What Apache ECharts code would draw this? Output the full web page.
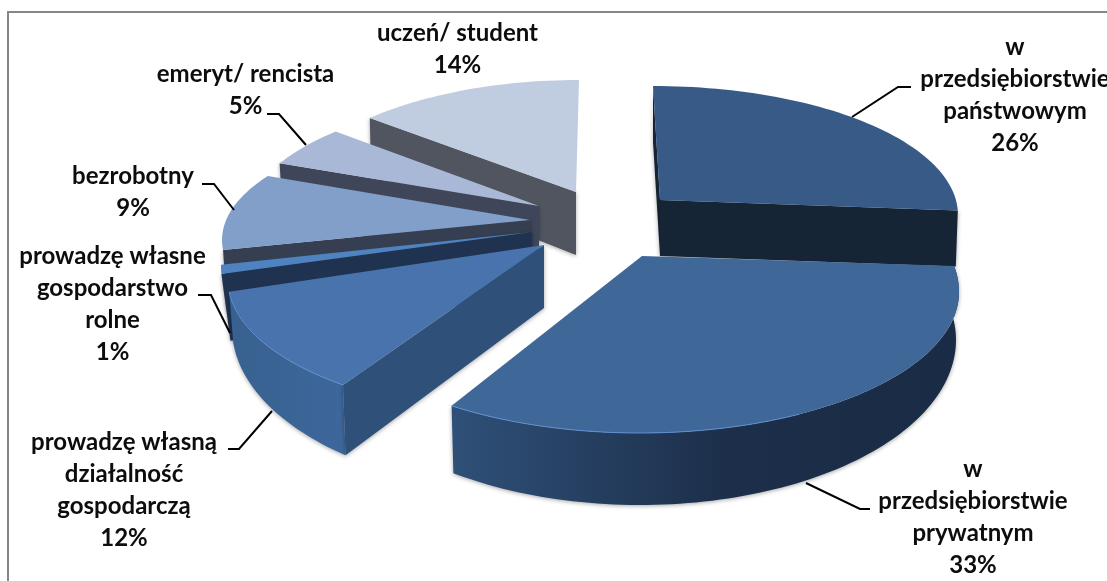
<!DOCTYPE html>
<html><head><meta charset="utf-8">
<style>html,body{margin:0;padding:0;background:#fff}#c{width:1107px;height:581px}</style>
<script src="https://cdn.jsdelivr.net/npm/echarts@6/dist/echarts.min.js"></script>
</head><body><div id="c"></div>
<script>
// Data, clockwise from 12 o'clock
const categories = ["w\nprzedsiębiorstwie\npaństwowym","w\nprzedsiębiorstwie\nprywatnym","prowadzę własną\ndziałalność\ngospodarczą","prowadzę własne\ngospodarstwo\nrolne","bezrobotny","emeryt/ rencista","uczeń/ student"];
const shares = [26,33,12,1,9,5,14];

// Projection of each exploded slice: the reference is a perspective 3D pie
const projection = [
 {ax:660,ay:200,az:256,top:{cx:653,cy:215,rx:305,ryB:129,ryF:129},bot:{cx:653,cy:271,rx:303,ryB:129,ryF:129},ds:0,de:-5.6,cuts:["start","end"],rim:false},
 {ax:642,ay:256,az:320,top:{cx:640,cy:292,rx:319,ryB:150,ryF:141},bot:{cx:640,cy:340,rx:316,ryB:165,ryF:165},ds:-13.6,de:3.8,cuts:[],rim:true},
 {ax:544,ay:245,az:308,top:{cx:544,cy:280,rx:316,ryB:136,ryF:136},bot:{cx:544,cy:328,rx:312,ryB:165,ryF:165},ds:7.1,de:9.4,cuts:["start"],rim:true},
 {ax:532,ay:232,az:295,top:{cx:532,cy:267,rx:311,ryB:136,ryF:136},bot:{cx:532,cy:332,rx:302,ryB:165,ryF:165},ds:11.4,de:11.8,cuts:["start"],rim:false},
 {ax:530,ay:220,az:280,top:{cx:530,cy:240,rx:308,ryB:122,ryF:122},bot:{cx:530,cy:300,rx:304,ryB:130,ryF:130},ds:6.1,de:10.1,cuts:["start"],rim:false},
 {ax:539,ay:206,az:266,top:{cx:539,cy:226,rx:296,ryB:130,ryF:130},bot:{cx:539,cy:286,rx:292,ryB:130,ryF:130},ds:7.2,de:7,cuts:["start"],rim:false},
 {ax:576,ay:192,az:255,top:{cx:579,cy:212,rx:298,ryB:132,ryF:132},bot:{cx:579,cy:268,rx:296,ryB:132,ryF:132},ds:5.8,de:0,cuts:["start"],rim:false}
];
const lin=(stops)=>({type:"linear",x:0,y:0,x2:1,y2:0,colorStops:stops.map((c,k)=>({offset:c[0],color:c[1]}))});
const skin = [
 {top:"#375a87",cut:"#162536",side:"#162536"},
 {top:"#3f6899",cut:"#1a2b45",side:lin([[0,"#2f5078"],[0.55,"#1c2e49"],[1,"#1a2b45"]])},
 {top:"#4873ac",cut:"#2f5078",side:lin([[0,"#38618f"],[1,"#3d679c"]])},
 {top:"#4f82c0",cut:"#1f3350",side:"#1f3350"},
 {top:"#829fca",cut:"#363f52",side:"#363f52"},
 {top:"#a8b8d6",cut:"#40465a",side:"#40465a"},
 {top:"#c0cce0",cut:"#50555f",side:"#50555f"}
];
const drawOrder = [6,0,5,4,3,2,1];
// Label anchors and leader lines
const labelPlace = [
 {x:1015,y:95,leader:[[852,117],[898,87],[911,87]]},
 {x:973,y:517,leader:[[806,483],[860,509],[870,509]]},
 {x:124,y:490,leader:[[272,411],[239,449],[228,449]]},
 {x:112.5,y:304,leader:[[230,333],[211,295],[198,295]]},
 {x:133,y:192,leader:[[234,210],[214,184],[202,184]]},
 {x:245.5,y:90,leader:[[306,145],[279,114],[267,114]]},
 {x:457.5,y:49,leader:null}
];

function rimPoint(e,deg){
  const t=deg*Math.PI/180,s=Math.sin(t),c=Math.cos(t);
  return [e.cx+e.rx*s, e.cy-(c>0?e.ryB:e.ryF)*c];
}
function arc(e,a,b){
  const out=[],n=Math.max(2,Math.ceil(Math.abs(b-a)/1.5));
  for(let i=0;i<=n;i++) out.push(rimPoint(e,a+(b-a)*i/n));
  return out;
}
const total=shares.reduce((a,b)=>a+b,0);
function span(i){
  let before=0; for(let k=0;k<i;k++) before+=shares[k];
  const p=projection[i];
  return [before/total*360+p.ds,(before+shares[i])/total*360+p.de];
}
const pct=v=>Math.round(v/total*100)+"%";

function renderSlice(params,api){
  const i=api.value(0),p=projection[i],c=skin[i],[a,b]=span(i),kids=[];
  const shadow={shadowBlur:4,shadowColor:"rgba(0,0,0,.35)",shadowOffsetX:0,shadowOffsetY:1};
  const poly=(pts,fill,extra)=>kids.push({type:"polygon",shape:{points:pts},style:Object.assign({fill:fill,stroke:null},extra||{})});
  if(p.rim) poly(arc(p.top,a,b).concat(arc(p.bot,b,a)),c.side,shadow);
  p.cuts.forEach(function(w){
    const d=w==="start"?a:b;
    poly([[p.ax,p.ay],rimPoint(p.top,d),rimPoint(p.bot,d),[p.ax,p.az]],c.cut,shadow);
  });
  poly([[p.ax,p.ay]].concat(arc(p.top,a,b)),c.top);
  if(p.rim) kids.push({type:"polyline",shape:{points:arc(p.top,Math.max(a,150),b)},style:{stroke:"#5f8fcf",lineWidth:1,fill:null}});
  return {type:"group",children:kids};
}
function renderLabel(params,api){
  const i=api.value(0),l=labelPlace[i],kids=[];
  if(l.leader) kids.push({type:"polyline",shape:{points:l.leader},style:{stroke:"#000",lineWidth:2,fill:null}});
  kids.push({type:"text",style:{text:categories[i]+"\n"+pct(shares[i]),x:l.x,y:l.y,align:"center",verticalAlign:"middle",
    font:"700 24px Lato",lineHeight:32,fill:"#0d0d0d"}});
  return {type:"group",children:kids};
}
const chart=echarts.init(document.getElementById("c"),null,{renderer:"canvas"});
chart.setOption({
  animation:false,backgroundColor:"#fff",
  graphic:[{type:"rect",z:0,shape:{x:8,y:12,width:1300,height:800},style:{fill:"#fff",stroke:"#868686",lineWidth:2}}],
  series:[
    {type:"custom",coordinateSystem:"none",z:2,silent:true,clip:false,renderItem:renderSlice,data:drawOrder.map(i=>[i])},
    {type:"custom",coordinateSystem:"none",z:3,silent:true,clip:false,renderItem:renderLabel,data:shares.map((v,i)=>[i])}
  ]
});
</script></body></html>
